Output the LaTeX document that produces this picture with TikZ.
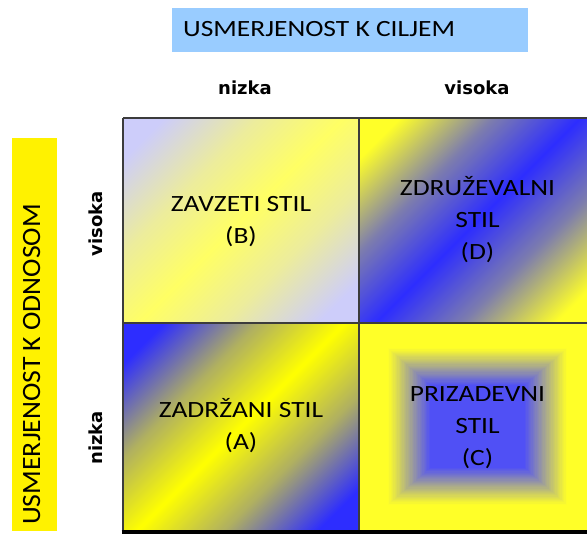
\documentclass[tikz,border=0pt]{standalone}
\usepackage{fontspec}
\newfontfamily\lblfont[FakeStretch=1.18]{Carlito}
\newfontfamily\vlblfont[FakeStretch=1.05]{Carlito}
\newfontfamily\axfont{DejaVu Sans}
\definecolor{titleblue}{RGB}{153,204,255}
\definecolor{lav}{RGB}{205,205,250}
\definecolor{yelB}{RGB}{255,255,100}
\definecolor{bluD}{RGB}{45,45,255}
\definecolor{yelD}{RGB}{255,255,40}
\definecolor{bluA}{RGB}{45,45,255}
\definecolor{yelA}{RGB}{255,255,0}
\definecolor{bluC}{RGB}{80,80,245}
\definecolor{yelC}{RGB}{255,255,40}
\definecolor{gridgray}{RGB}{60,60,60}
\colorlet{mB}{yelB!62!lav}
\colorlet{mD}{bluD!62!yelD}
\colorlet{mA}{yelA!62!bluA}
\pgfdeclareverticalshading{shB}{100bp}{color(0bp)=(lav); color(21bp)=(lav); color(36bp)=(mB); color(50bp)=(yelB); color(64bp)=(mB); color(79bp)=(lav); color(100bp)=(lav)}
\pgfdeclareverticalshading{shD}{100bp}{color(0bp)=(yelD); color(21bp)=(yelD); color(36bp)=(mD); color(50bp)=(bluD); color(64bp)=(mD); color(79bp)=(yelD); color(100bp)=(yelD)}
\pgfdeclareverticalshading{shA}{100bp}{color(0bp)=(bluA); color(21bp)=(bluA); color(36bp)=(mA); color(50bp)=(yelA); color(64bp)=(mA); color(79bp)=(bluA); color(100bp)=(bluA)}
\begin{document}
\begin{tikzpicture}[x=1pt,y=-1pt,
  celltext/.style={font=\lblfont\fontsize{23.3}{32}\selectfont, align=center, inner sep=0pt, text depth=0pt},
  axlabel/.style={font=\axfont\bfseries\fontsize{18}{20}\selectfont, inner sep=0pt},
  gridline/.style={draw=gridgray, line width=1.5pt}]
\useasboundingbox (0,0) rectangle (587,534);
\clip (0,0) rectangle (587,534);
% title boxes
\fill[titleblue] (172,8) rectangle (528,52);
\node[font=\lblfont\fontsize{23.3}{28}\selectfont, inner sep=0pt, anchor=base west] (title) at (183,37) {USMERJENOST K CILJEM};
\fill[yellow] (12,138) rectangle (57,531);
\node[font=\vlblfont\fontsize{26.4}{30}\selectfont, inner sep=0pt, anchor=base west, rotate=90] (vtitle) at (40,525) {USMERJENOST K ODNOSOM};
% axis labels
\node[axlabel, anchor=base] (xlow) at (245,95) {nizka};
\node[axlabel, anchor=base] (xhigh) at (477,95) {visoka};
\node[axlabel, anchor=base, rotate=90] (yhigh) at (102,224) {visoka};
\node[axlabel, anchor=base, rotate=90] (ylow) at (102,438) {nizka};
% cells
\shade[shading=shB, shading angle=45] (123,118) rectangle (359,323);
\shade[shading=shD, shading angle=45] (359,118) rectangle (596,323);
\shade[shading=shA, shading angle=45] (123,323) rectangle (359,530);
\foreach \i in {0,...,89} {
  \pgfmathsetmacro\tt{1-\i/90}
  \pgfmathsetmacro\pp{max(0,min(100,(\tt-0.4)/0.36*100))}
  \colorlet{cc}{yelC!\pp!bluC}
  \fill[cc] ({477.5-\tt*118.5},{426.5-\tt*103.5}) rectangle ({477.5+\tt*118.5},{426.5+\tt*103.5});
}
% grid
\draw[gridline] (123,118) -- (596,118);
\draw[gridline] (123,118) -- (123,530);
\draw[gridline] (359,118) -- (359,530);
\draw[gridline] (123,323) -- (596,323);
\draw[line width=4pt, black] (121.5,532) -- (596,532);
% cell texts
\node[celltext, text height=47pt] (B) at (241,220.5) {ZAVZETI STIL\\(B)};
\node[celltext, text height=79pt] (D) at (477.5,220.5) {ZDRUŽEVALNI\\STIL\\(D)};
\node[celltext, text height=47pt] (A) at (241,426.5) {ZADRŽANI STIL\\(A)};
\node[celltext, text height=79pt] (C) at (477.5,426.5) {PRIZADEVNI\\STIL\\(C)};
\end{tikzpicture}
\end{document}
